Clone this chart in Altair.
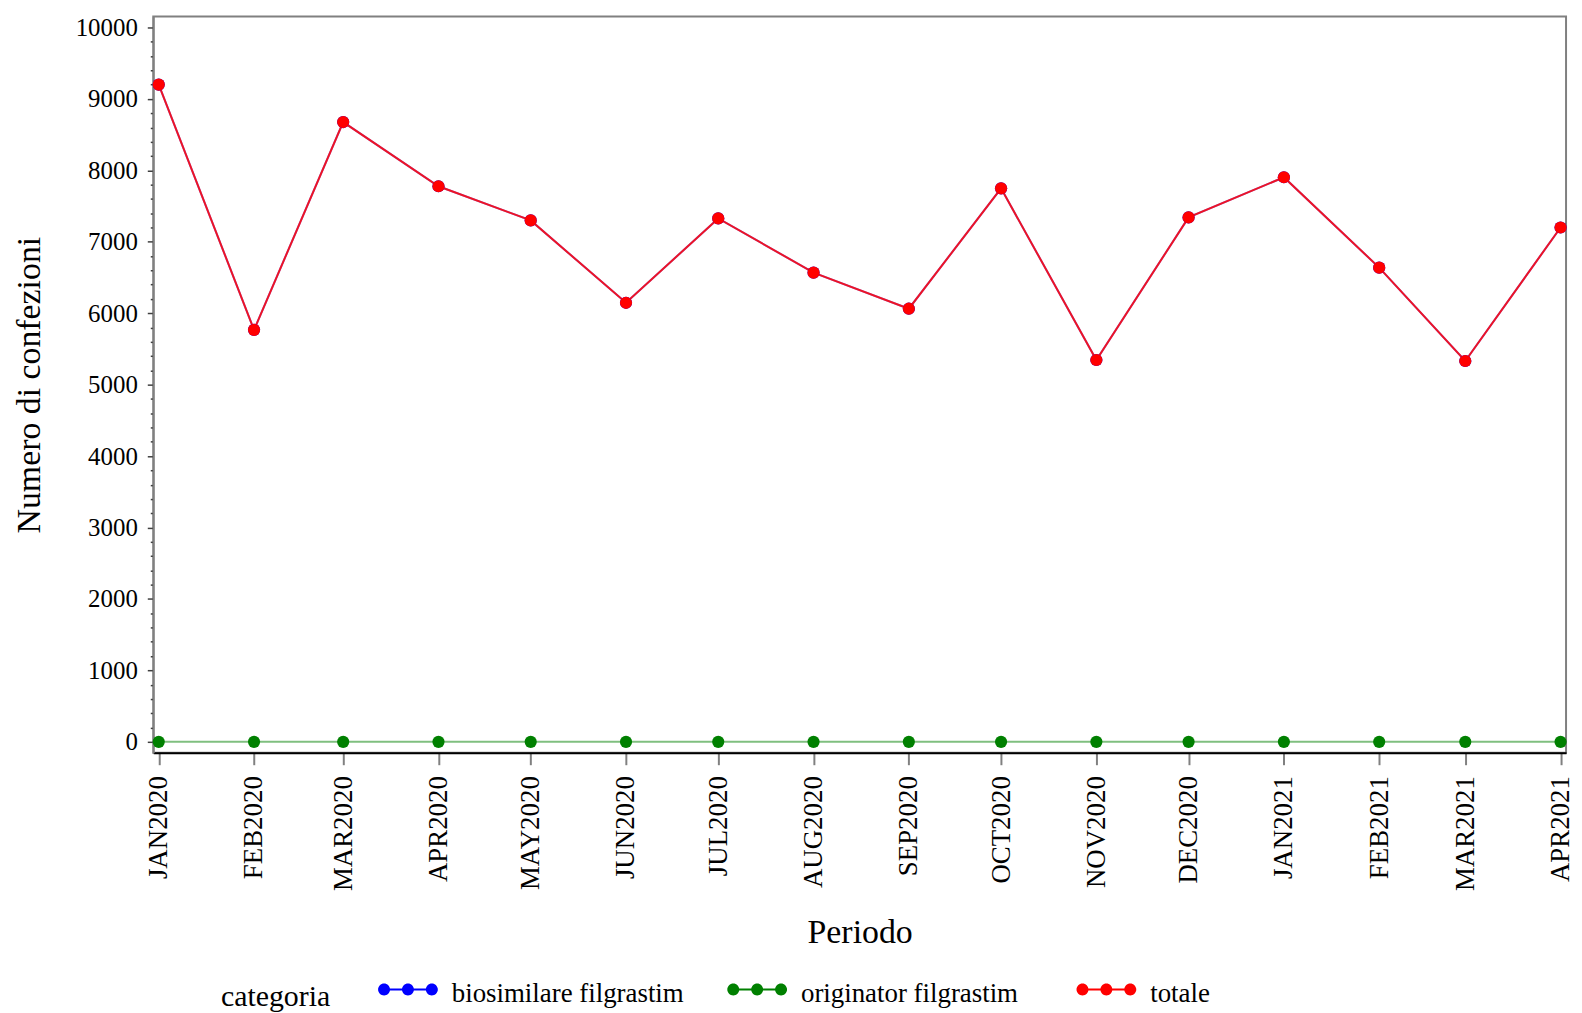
import altair as alt
import pandas as pd

periodi = ["2020-01-01", "2020-02-01", "2020-03-01", "2020-04-01", "2020-05-01", "2020-06-01",
           "2020-07-01", "2020-08-01", "2020-09-01", "2020-10-01", "2020-11-01", "2020-12-01",
           "2021-01-01", "2021-02-01", "2021-03-01", "2021-04-01"]
biosimilare = [9200, 5767, 8676, 7777, 7299, 6146, 7327, 6568, 6063, 7748, 5345, 7341, 7903, 6638, 5331, 7200]
originator = [0, 0, 0, 0, 0, 0, 0, 0, 0, 0, 0, 0, 0, 0, 0, 0]
totale = [9200, 5767, 8676, 7777, 7299, 6146, 7327, 6568, 6063, 7748, 5345, 7341, 7903, 6638, 5331, 7200]
categorie = ["biosimilare filgrastim", "originator filgrastim", "totale"]
colori = ["#0000FF", "#008000", "#FF0000"]
opacita_linee = [0.5, 0.5, 0.85]

rows = []
for cat, serie in zip(categorie, [biosimilare, originator, totale]):
    for p, v in zip(periodi, serie):
        rows.append({"periodo": p, "valore": v, "categoria": cat})
df = pd.DataFrame(rows)

FONT = "Liberation Serif"

# filled-only legend glyph: thin bar with three dots (all subpaths clockwise),
# drawn slightly above the label's centre line
sym = ("M-1,-0.2L1,-0.2L1,-0.133L-1,-0.133Z"
       "M-1,-0.167a0.2,0.2 0 1,1 0.4,0a0.2,0.2 0 1,1 -0.4,0"
       "M-0.2,-0.167a0.2,0.2 0 1,1 0.4,0a0.2,0.2 0 1,1 -0.4,0"
       "M0.6,-0.167a0.2,0.2 0 1,1 0.4,0a0.2,0.2 0 1,1 -0.4,0")

leg = alt.Legend(
    title="categoria", orient="none", legendX=68, legendY=953, direction="horizontal",
    titleOrient="left", titleAnchor="middle", titleBaseline="line-top", titleLineHeight=22,
    titleFont=FONT, titleFontSize=30, titleFontWeight="normal", titleColor="black",
    titlePadding=48,
    labelFont=FONT, labelFontSize=27, labelColor="black", labelOffset=14, labelLimit=600,
    columnPadding=43, gridAlign="all", symbolType=sym, symbolSize=3600, symbolStrokeWidth=0,
    symbolOpacity=1, padding=0,
)

cscale = alt.Scale(domain=categorie, range=colori)
xscale = alt.Scale(type="utc", nice=False, padding=5.5)
yscale = alt.Scale(domain=[0, 10000], nice=False, zero=False, padding=11)

xaxis = alt.Axis(
    title="Periodo", tickCount={"interval": "month", "step": 1},
    labelExpr="upper(utcFormat(datum.value, '%b%Y'))",
    labelAngle=270, labelAlign="right", labelBaseline="middle", labelPadding=11,
    labelFont=FONT, labelFontSize=27, labelColor="black",
    labelOverlap=False, labelFlush=False, labelBound=False,
    tickSize=12, tickColor="#808080", tickWidth=2,
    domainColor="black", domainWidth=2, grid=False,
    titleFont=FONT, titleFontSize=34, titleFontWeight="normal", titleColor="black",
    titleX=710, titleY=191, titleAlign="center", titleBaseline="alphabetic",
)

yaxis = alt.Axis(
    title="Numero di confezioni", values=list(range(0, 10001, 200)), format="d",
    labelExpr="datum.value % 1000 === 0 ? datum.label : ''",
    labelOverlap=False, labelFlush=False, labelFont=FONT, labelFontSize=25, labelColor="black",
    labelPadding=10,
    tickSize={"condition": {"test": "datum.value % 1000 === 0", "value": 6}, "value": 3},
    tickColor="#404040", tickWidth=1.5,
    domainColor="#808080", domainWidth=2, grid=False,
    titleFont=FONT, titleFontSize=34, titleFontWeight="normal", titleColor="black",
    titleAngle=270, titleX=-114, titleY=370, titleAlign="center", titleBaseline="alphabetic",
)

base = alt.Chart(df)

line_layers = []
for cat, col, op in zip(categorie, colori, opacita_linee):
    line_layers.append(
        base.transform_filter(alt.datum.categoria == cat)
        .mark_line(strokeWidth=2, color=col, strokeOpacity=op)
        .encode(
            x=alt.X("periodo:T", scale=xscale, axis=xaxis),
            y=alt.Y("valore:Q", scale=yscale, axis=yaxis),
        )
    )

points = base.mark_point(filled=True, size=150, opacity=1).encode(
    x=alt.X("periodo:T", scale=xscale, axis=xaxis),
    y=alt.Y("valore:Q", scale=yscale, axis=yaxis),
    color=alt.Color("categoria:N", scale=cscale, legend=leg),
)

chart = alt.layer(*line_layers, points).properties(
    width=1420, height=740,
    autosize=alt.AutoSizeParams(type="none"),
    padding={"left": 146, "top": 6, "right": 8, "bottom": 262},
).configure_view(stroke="#808080", strokeWidth=2)

chart.save("out.html", embed_options={"renderer": "svg", "actions": False})
